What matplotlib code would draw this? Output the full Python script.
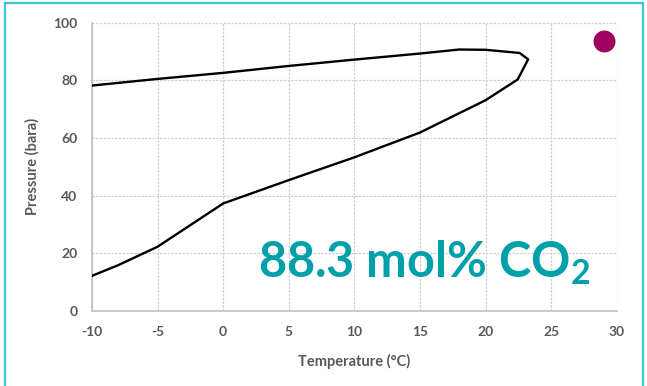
import matplotlib
matplotlib.use("Agg")
import matplotlib.pyplot as plt
from matplotlib.lines import Line2D

# phase envelope (upper branch -> nose -> lower branch)
temp_c = [-10, -5, 0, 5, 10, 15, 18, 20, 22.6, 23.25, 22.45, 20, 15, 10, 5, 0, -5, -8, -10]
press_bar = [78.2, 80.5, 82.6, 85.0, 87.2, 89.3, 90.7, 90.6, 89.5, 87.3, 80.3, 73.1,
             61.9, 53.3, 45.4, 37.3, 22.3, 15.9, 12.2]

# operating point marker
point_t = [29.0]
point_p = [93.8]

x_ticks = [-10, -5, 0, 5, 10, 15, 20, 25, 30]
y_ticks = [0, 20, 40, 60, 80, 100]
label_text = "88.3 mol% CO$_2$"

plt.rcParams['font.family'] = ['Lato', 'DejaVu Sans']
plt.rcParams['mathtext.fontset'] = 'custom'
plt.rcParams['mathtext.rm'] = 'Lato:bold'
plt.rcParams['mathtext.default'] = 'rm'
plt.rcParams['axes.unicode_minus'] = False

grey = '#595959'
teal = '#00A0AA'

fig = plt.figure(figsize=(6.47, 3.86), dpi=100)
ax = fig.add_axes([92 / 647, 75 / 386, 524.7 / 647, 288.3 / 386])

ax.plot(temp_c, press_bar, color='black', lw=1.7, zorder=3)
ax.scatter(point_t, point_p, s=250, color='#A0005F', zorder=4, clip_on=False, linewidths=0)

ax.set_xlim(-10, 30)
ax.set_ylim(0, 100)
ax.set_xticks(x_ticks)
ax.set_yticks(y_ticks)
ax.grid(True, color='#D0D0D0', linestyle=(0, (2, 1)), linewidth=0.9)
ax.set_axisbelow(True)

for s in ['top', 'right']:
    ax.spines[s].set_visible(False)
for s in ['left', 'bottom']:
    ax.spines[s].set_color('#BFBFBF')
    ax.spines[s].set_linewidth(1.2)

ax.tick_params(length=0, pad=10.5, labelsize=10, labelcolor=grey)
for t in ax.get_xticklabels() + ax.get_yticklabels():
    t.set_fontweight('bold')

ax.set_xlabel('Temperature (°C)', fontsize=10.5, fontweight='bold', color=grey)
ax.set_ylabel('Pressure (bara)', fontsize=10.5, fontweight='bold', color=grey)
ax.xaxis.set_label_coords(0.5, -0.149)
ax.yaxis.set_label_coords(-0.099, 0.5)

ax.text(0.3164, 0.117, label_text, transform=ax.transAxes, fontsize=35,
        fontweight='bold', color=teal, ha='left', va='baseline')

# cyan frame round the slide area (bottom edge is off the picture)
fx = lambda px: px / 647
fy = lambda py: 1 - py / 386
frame = dict(color='#3CC8DC', lw=1.6, transform=fig.transFigure)
fig.add_artist(Line2D([fx(5), fx(5)], [fy(2.5), -0.1], **frame))
fig.add_artist(Line2D([fx(5), fx(642.5)], [fy(2.5), fy(2.5)], **frame))
fig.add_artist(Line2D([fx(642.5), fx(642.5)], [fy(2.5), -0.1], **frame))

fig.savefig('out.png', dpi=100)
